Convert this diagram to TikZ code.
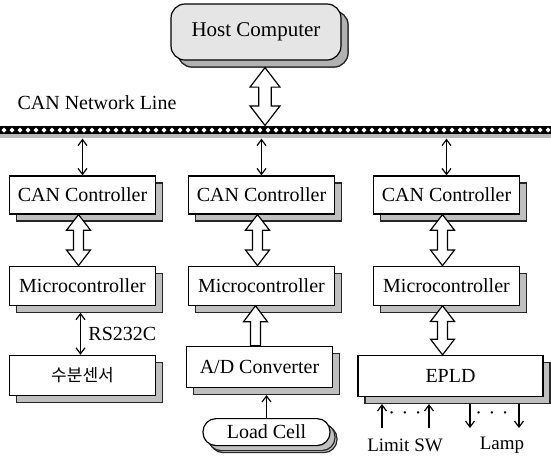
\documentclass[tikz,border=0pt]{standalone}
\usepackage{fontspec}
\setmainfont{Liberation Serif}
\newfontfamily\krfont{Noto Sans CJK KR}
\usetikzlibrary{positioning}
\usetikzlibrary{calc}
\usetikzlibrary{shadows}
\usetikzlibrary{arrows.meta}
% hollow double arrow between two named points (vertical)
\newcommand{\dblarrow}[3][12]{%
	\pgfmathsetmacro{\arrhw}{#1}\pgfmathsetmacro{\arrhl}{1.3*#1}\pgfmathsetmacro{\arrsw}{0.42*#1}%
	\draw[hollow] let \p1=(#2), \p2=(#3) in
		(\x1,\y1) -- (\x1+\arrhw pt,\y1-\arrhl pt) -- (\x1+\arrsw pt,\y1-\arrhl pt) -- (\x1+\arrsw pt,\y2+\arrhl pt)
		-- (\x1+\arrhw pt,\y2+\arrhl pt) -- (\x1,\y2) -- (\x1-\arrhw pt,\y2+\arrhl pt) -- (\x1-\arrsw pt,\y2+\arrhl pt)
		-- (\x1-\arrsw pt,\y1-\arrhl pt) -- (\x1-\arrhw pt,\y1-\arrhl pt) -- cycle;}
% hollow single arrow pointing up
\newcommand{\uparr}[2]{%
	\draw[hollow] let \p1=(#1), \p2=(#2) in
		(\x1,\y2) -- (\x1+12pt,\y2-16pt) -- (\x1+5pt,\y2-16pt) -- (\x1+5pt,\y1)
		-- (\x1-5pt,\y1) -- (\x1-5pt,\y2-16pt) -- (\x1-12pt,\y2-16pt) -- cycle;}
\begin{document}
\begin{tikzpicture}[x=1pt, y=-1pt, line width=1.2pt, >={Straight Barb[length=6pt,width=9pt]},
	every node/.style={font=\fontsize{20}{24}\selectfont},
	hollow/.style={draw, fill=white, line width=1.2pt, line join=miter},
	blk/.style={draw, fill=white, minimum width=146pt, minimum height=39pt, inner sep=0pt,
		drop shadow={shadow xshift=7pt, shadow yshift=-7pt, fill=gray!50, draw=gray!30!black, opacity=1}},
	bus/.style={minimum width=551pt, minimum height=12pt, inner sep=0pt, fill=black,
		path picture={
			\fill[gray!55] ([yshift=4pt]path picture bounding box.south west) rectangle (path picture bounding box.south east);
			\foreach \i in {4,12,...,548}
				\fill[white] ([xshift=\i pt, yshift=2pt]path picture bounding box.west) ++(-2.5pt,0) -- ++(2.5pt,2.5pt) -- ++(2.5pt,-2.5pt) -- ++(-2.5pt,-2.5pt) -- cycle;
		}}]
	\useasboundingbox (0,0) rectangle (551,459);
	% Host et bus CAN
	\node[blk, rounded corners=14pt, fill=gray!20, minimum width=170pt, minimum height=56pt, font=\fontsize{21}{25}\selectfont,
		drop shadow={shadow xshift=7pt, shadow yshift=-7pt, fill=gray!60, draw=gray!30!black, opacity=1}] (host) at (256,32) {Host Computer};
	\node (netlbl) at (97,103) {CAN Network Line};
	\node[bus] (bus) at (275.5,132) {};
	\dblarrow[15]{[xshift=9pt,yshift=-7pt]host.south}{bus.north}
	%
	% CAN controllers
	\node[blk, minimum height=38pt] (can1) at (82.5,195) {CAN Controller};
	\node[blk, minimum height=38pt] (can2) at (261.5,195) {CAN Controller};
	\node[blk, minimum height=38pt] (can3) at (446.5,195) {CAN Controller};
	\draw[<->] (can1.north |- bus.south) -- (can1.north);
	\draw[<->] (can2.north |- bus.south) -- (can2.north);
	\draw[<->] (can3.north |- bus.south) -- (can3.north);
	%
	% Microcontrollers
	\node[blk, below=51pt of can1] (mc1) {Microcontroller};
	\node[blk, below=51pt of can2] (mc2) {Microcontroller};
	\node[blk, below=51pt of can3] (mc3) {Microcontroller};
	\dblarrow{[xshift=-4pt]can1.south}{mc1.north}
	\dblarrow{[xshift=-4pt]can2.south}{mc2.north}
	\dblarrow{[xshift=-4pt]can3.south}{mc3.north}
	%
	% colonne 1 : capteur
	\node[blk, minimum height=40pt, below=49pt of mc1, font=\krfont\fontsize{17}{20}\selectfont] (sensor) {수분센서};
	\draw[<->] ([xshift=-2pt,yshift=-7pt]mc1.south) -- ([xshift=-2pt]sensor.north) node[midway, right, xshift=4pt] (rs) {RS232C};
	%
	% colonne 2 : A/D et Load Cell
	\node[blk, minimum height=41pt, below=40pt of mc2, xshift=-2pt] (ad) {A/D Converter};
	\node[blk, rounded corners=13pt, minimum width=127pt, minimum height=27pt, below=30pt of ad, xshift=7pt,
		drop shadow={shadow xshift=5pt, shadow yshift=-5pt, fill=gray!50, draw=gray!30!black, opacity=1}] (load) {Load Cell};
	\uparr{[xshift=-4pt]ad.north}{mc2.south}
	\draw[->] (load.north) -- ($(load.north |- ad.south)+(0,7)$);
	%
	% colonne 3 : EPLD
	\node[blk, minimum width=185pt, minimum height=41pt, below=49pt of mc3, xshift=4pt] (epld) {EPLD};
	\dblarrow{[xshift=-4pt]mc3.south}{epld.north}
	\coordinate (eplds) at ($(epld.south)+(0,7)$);
	\node[font=\fontsize{19}{22}\selectfont] (limit) at (405,445) {Limit SW};
	\node[font=\fontsize{19}{22}\selectfont] (lamp) at (502,445) {Lamp};
	\coordinate (in1) at ($(epld.south)+(-68.5,31)$);
	\coordinate (in2) at ($(epld.south)+(-21.5,31)$);
	\coordinate (out1) at ($(epld.south)+(19.5,31)$);
	\coordinate (out2) at ($(epld.south)+(68.5,31)$);
	\draw[->] (in1) -- (in1 |- eplds);
	\draw[->] (in2) -- (in2 |- eplds);
	\draw[<-] (out1) -- (out1 |- eplds);
	\draw[<-] (out2) -- (out2 |- eplds);
	\node (dots1) at (405,416) {·\,\,·\,\,·};
	\node (dots2) at (492,416) {·\,\,·\,\,·};
\end{tikzpicture}
\end{document}
